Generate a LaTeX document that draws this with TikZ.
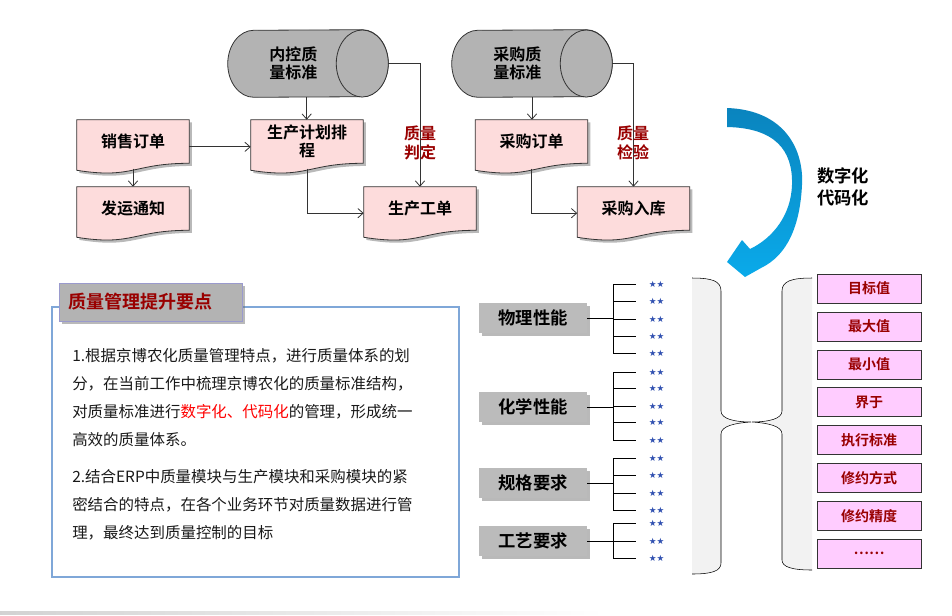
\documentclass[tikz,border=0pt]{standalone}
\usepackage{fontspec}
\setmainfont{Noto Sans CJK SC}[BoldFont={Noto Sans CJK SC Bold}]
\newfontfamily\djv{DejaVu Sans}
\usetikzlibrary{shadows,backgrounds,calc,arrows.meta}

\definecolor{docpink}{HTML}{FDDCDC}
\definecolor{cylgray}{HTML}{B3B3B3}
\definecolor{catgray}{HTML}{BBBBBB}
\definecolor{tagpink}{HTML}{FFCCFF}
\definecolor{darkred}{HTML}{990000}
\definecolor{panelblue}{HTML}{7FA7D8}
\definecolor{tablilac}{HTML}{9A9ACD}
\definecolor{bracegray}{HTML}{F2F2F2}
\definecolor{arrowtop}{HTML}{0A84BE}
\definecolor{arrowbot}{HTML}{0AAAEA}
\definecolor{starblue}{HTML}{3050B0}

\tikzset{
  flow/.style={draw=black!80, semithick, -{Straight Barb[length=4pt,width=7pt]}},
  shade2/.style={drop shadow={shadow xshift=2pt, shadow yshift=-2pt, opacity=0.5, fill=black!55}},
  cylbox/.style={minimum width=120pt, minimum height=50.25pt, inner sep=0pt},
  cyltext/.style={align=center, xshift=-11pt, inner sep=0pt, font=\fontsize{12}{14}\selectfont\bfseries},
  cylshape/.style={draw=black!80, semithick, fill=cylgray},
  doc/.style={minimum width=84pt, minimum height=32.25pt, inner sep=0pt, align=center,
    font=\fontsize{12}{14}\selectfont\bfseries},
  docshape/.style={draw=black!80, semithick, fill=docpink, shade2},
  judge/.style={align=center, text=darkred, inner sep=0pt, font=\fontsize{12}{14}\selectfont\bfseries},
  cat/.style={fill=catgray, minimum width=81pt, minimum height=22.5pt, inner sep=0pt,
    font=\fontsize{13}{15}\selectfont\bfseries, shade2},
  tag/.style={draw=black!80, fill=tagpink, minimum width=78pt, minimum height=21.75pt,
    inner sep=0pt, text=darkred, font=\fontsize{10.5}{12}\selectfont\bfseries},
  starmark/.style={anchor=west, inner xsep=9.5pt, inner ysep=0pt, text=starblue,
    font=\djv\fontsize{6.5}{7}\selectfont},
  para/.style={anchor=north west, inner sep=0pt, align=left, text=black!90,
    font=\fontsize{11.6}{21}\selectfont}
}

\begin{document}
\begin{tikzpicture}[x=0.75pt,y=-0.75pt]
\useasboundingbox (0,0) rectangle (952,615);

% quality standards
\node[cylbox, label={[cyltext]center:{内控质\\量标准}}] (nkbz) at (308,63.5) {};
\node[cylbox, label={[cyltext]center:{采购质\\量标准}}] (cgbz) at (532,63.5) {};
\begin{scope}[on background layer]
\foreach \n in {nkbz,cgbz} {
  \draw[cylshape] ($(\n.north east)+(-26,0)$) arc[start angle=-90, end angle=90, x radius=26, y radius=33.5]
    -- ($(\n.south west)+(26,0)$) arc[start angle=90, end angle=270, x radius=26, y radius=33.5] -- cycle;
  \draw[cylshape] ($(\n.east)+(-26,0)$) ellipse[x radius=26, y radius=33.5];
}
\end{scope}

% documents
\node[doc] (xsdd) at (133,141.5) {销售订单};
\node[doc] (fytz) at (133,208.5) {发运通知};
\node[doc] (jhpc) at (307,141.5) {生产计划排\\程};
\node[doc] (scgd) at (420,208.5) {生产工单};
\node[doc] (cgdd) at (531.5,141.5) {采购订单};
\node[doc] (cgrk) at (633.5,208.5) {采购入库};

\begin{scope}[on background layer]
\foreach \n in {xsdd,fytz,jhpc,scgd,cgdd,cgrk}
  \draw[docshape] (\n.north west) -- (\n.north east) -- (\n.south east)
    .. controls (\n.south) and ($(\n.south)+(0,16)$) .. ($(\n.south west)+(0,7)$) -- cycle;
\end{scope}

\draw[flow] ([xshift=-1pt]nkbz.south) -- ([xshift=-1pt]nkbz.south |- jhpc.north);
\draw[flow] ([yshift=-4pt]xsdd.east) -- ([yshift=-4pt]jhpc.west);
\draw[flow] ([yshift=-4pt]xsdd.south) -- (fytz.north);
\draw[flow] ([yshift=-4pt]jhpc.south) |- ([yshift=-3.5pt]scgd.west);
\draw[flow] (nkbz.east) -| (scgd.north);
\draw[flow] (cgbz.south) -- (cgbz.south |- cgdd.north);
\draw[flow] ([yshift=-4pt]cgdd.south) |- ([yshift=-3.5pt]cgrk.west);
\draw[flow] (cgbz.east) -| (cgrk.north);
\node[judge] (zlpd) at (420,143) {质量\\判定};
\node[judge] (zljy) at (633,143) {质量\\检验};

% digitising arrow
\shade[top color=arrowtop, bottom color=arrowbot] (727,108)
  .. controls (785,110) and (804,150) .. (802,185)
  .. controls (800,225) and (788,255) .. (761,268) -- (745,277) -- (727,262) -- (742,240) -- (750,249)
  .. controls (773,238) and (791,215) .. (792,185)
  .. controls (793,150) and (775,128) .. (727,127) -- cycle;
\node[align=center, inner sep=0pt, font=\fontsize{13}{16}\selectfont\bfseries] (szh) at (843,187) {数字化\\代码化};

% key points panel
\draw[panelblue, line width=0.8pt] (52,307) rectangle (459,577);
\node[anchor=west, fill=cylgray, draw=tablilac, minimum width=137pt, minimum height=28.5pt,
  inner xsep=7pt, text width=123pt, align=left, text=darkred,
  font=\fontsize{13.5}{15}\selectfont\bfseries, shade2] (tab) at (59,302) {质量管理提升要点};
\node[para] (p1) at (72,348) {1.根据京博农化质量管理特点，进行质量体系的划\\
分，在当前工作中梳理京博农化的质量标准结构，\\
对质量标准进行\textcolor{red}{数字化、代码化}的管理，形成统一\\
高效的质量体系。};
\node[para] (p2) at (72,469) {2.结合ERP中质量模块与生产模块和采购模块的紧\\
密结合的特点，在各个业务环节对质量数据进行管\\
理，最终达到质量控制的目标};

% property groups
\node[cat] (wlxn) at (533,318) {物理性能};
\node[cat] (hxxn) at (533,407) {化学性能};
\node[cat] (ggyq) at (533,483) {规格要求};
\node[cat] (gyyq) at (533,541) {工艺要求};

\foreach \c/\first/\last/\ys [count=\g] in {wlxn/284/353/{284,301,319,336,353},
    hxxn/372/440/{372,388,406,422,440}, ggyq/458/510/{458,475,493,510}, gyyq/523/558/{523,541,558}} {
  \coordinate (bar\g) at (613,0);
  \draw[semithick] (\c.east) -- (\c.east -| bar\g);
  \draw[semithick] (613,\first) -- (613,\last);
  \foreach \y [count=\i] in \ys {
    \node[starmark] (s\g-\i) at (636,\y) {★★};
    \draw[semithick] (613,\y) -- (s\g-\i.west);
  }
}

% braces
\fill[bracegray] (692,278) .. controls (712,278) and (721,281) .. (721,291) -- (721,411)
  .. controls (721,419) and (735,422) .. (751,422) .. controls (735,423) and (721,426) .. (721,434)
  -- (721,563) .. controls (721,571) and (712,574) .. (692,574) -- cycle;
\draw (692,278) .. controls (712,278) and (721,281) .. (721,291) -- (721,411)
  .. controls (721,419) and (735,422) .. (751,422) .. controls (735,423) and (721,426) .. (721,434)
  -- (721,563) .. controls (721,571) and (712,574) .. (692,574);
\fill[bracegray] (812,278) .. controls (792,278) and (782,281) .. (782,291) -- (782,411)
  .. controls (782,419) and (768,422) .. (752,422) .. controls (768,423) and (782,426) .. (782,434)
  -- (782,560) .. controls (782,567) and (792,570) .. (812,570) -- cycle;
\draw (812,278) .. controls (792,278) and (782,281) .. (782,291) -- (782,411)
  .. controls (782,419) and (768,422) .. (752,422) .. controls (768,423) and (782,426) .. (782,434)
  -- (782,560) .. controls (782,567) and (792,570) .. (812,570);

% standard attributes
\foreach \t [count=\i] in {目标值,最大值,最小值,界于,执行标准,修约方式,修约精度,……}
  \node[tag] (v\i) at (869,{288.5+37.9*(\i-1)}) {\t};

\shade[left color=gray!35, middle color=gray!70, right color=white] (0,611.5) rectangle (604,614);
\end{tikzpicture}
\end{document}
